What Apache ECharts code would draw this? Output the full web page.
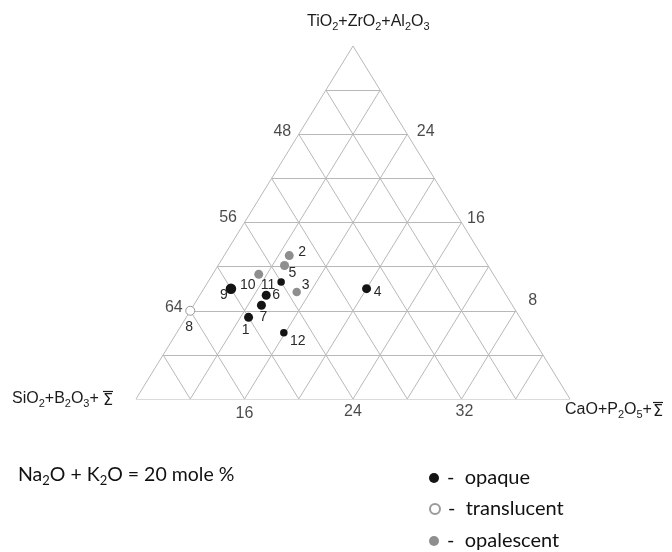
<!DOCTYPE html>
<html><head><meta charset="utf-8">
<script src="https://cdn.jsdelivr.net/npm/echarts@6/dist/echarts.min.js"></script>
<style>html,body{margin:0;padding:0;background:#fff}#c{width:672px;height:552px}</style>
</head><body><div id="c"></div>
<script>
// ---- data (mole %, Na2O + K2O = 20, so the three components sum to 80) ----
const sampleNames = ['1','2','3','4','5','6','7','8','9','10','11','12'];
const sio2 = [60.0, 54.2, 55.3, 50.0, 55.0, 57.7, 58.5, 64.0, 60.0, 57.3, 56.0, 58.1];
const tio2 = [ 7.4, 13.0,  9.7, 10.0, 12.1,  9.4,  8.5,  8.0, 10.0, 11.3, 10.6,  6.0];
const cao  = [12.6, 12.8, 15.0, 20.0, 12.9, 12.9, 13.0,  8.0, 10.0, 11.4, 13.4, 15.9];
const sampleTypes = ['opaque','opalescent','opalescent','opaque','opalescent','opaque',
                     'opaque','translucent','opaque','opalescent','opaque','opaque'];
const typeNames = ['opaque','translucent','opalescent'];
const leftTicks = [48, 56, 64];    // SiO2+B2O3+Σ along left edge
const rightTicks = [24, 16, 8];    // TiO2+ZrO2+Al2O3 along right edge
const bottomTicks = [16, 24, 32];  // CaO+P2O5+Σ along base
const tiGrid = [4, 8, 12, 16, 20, 24, 28];
const caGrid = [12, 16, 20, 24, 28, 32, 36];
const siGrid = [44, 48, 52, 56, 60, 64, 68];
const TOTAL = 80, CA_MIN = 8, TI_MAX = 32, SI_MIN = 40;

// ---- styles / layout (not data) ----
const typeStyle = {
  opaque: {color: '#141414', borderColor: '#141414', borderWidth: 0},
  translucent: {color: '#ffffff', borderColor: '#9a9a9a', borderWidth: 1},
  opalescent: {color: '#8e8e8e', borderColor: '#8e8e8e', borderWidth: 0}
};
const sizeByName = {'9': 10.5, '11': 7.5, '12': 7.5, '3': 8.5};
const labelOffset = {'1':[-3,13],'2':[13,-3],'3':[9,-7],'4':[11,3],'5':[8,8],'6':[10,0],
  '7':[2,12],'8':[-1,16],'9':[-7,6],'10':[-11,11],'11':[-13,3],'12':[14,8]};
const rightTickOffset = [[9,-3],[5,-4],[12,-10]];
const bottomTickOffset = [[0,1],[0,-1],[3,-1]];
const legendTops = [468, 499, 531];

function toXY(si, ti, ca) {
  const s = si + ti + ca;
  const t = ti * TOTAL / s, c = ca * TOTAL / s;
  return [(c - CA_MIN) + t / 2, t];
}

const segs = [];
function seg(a, b) { segs.push({coords: [toXY(...a), toXY(...b)]}); }
seg([72,0,8],[40,32,8]); seg([40,32,8],[40,0,40]); seg([72,0,8],[40,0,40]);
tiGrid.forEach(t => seg([TOTAL - CA_MIN - t, t, CA_MIN], [SI_MIN, t, TOTAL - SI_MIN - t]));
caGrid.forEach(c => seg([TOTAL - c, 0, c], [SI_MIN, TOTAL - SI_MIN - c, c]));
siGrid.forEach(s => seg([s, 0, TOTAL - s], [s, TOTAL - CA_MIN - s, CA_MIN]));

const font = 'Liberation Sans, Arial, sans-serif';
const pointSeries = typeNames.map(tp => ({
  name: tp, type: 'scatter', z: 5,
  symbol: 'circle',
  itemStyle: Object.assign({opacity: 1}, typeStyle[tp]),
  symbolSize: (v, p) => sizeByName[p.name] || 9,
  label: {show: true, position: 'inside', formatter: '{b}', color: '#2a2a2a',
          fontFamily: font, fontSize: 14},
  emphasis: {disabled: true},
  data: sampleNames.map((n, i) => ({n, i})).filter(o => sampleTypes[o.i] === tp).map(o => ({
    name: o.n, value: toXY(sio2[o.i], tio2[o.i], cao[o.i]),
    label: {offset: labelOffset[o.n]}
  }))
}));

function tickSeries(vals, xyFn, pos, offs, dist) {
  return {
    type: 'scatter', silent: true, symbolSize: 1, z: 4,
    itemStyle: {color: 'transparent'},
    label: {show: true, position: pos, distance: dist, formatter: p => p.data.t,
            color: '#1c1c1c', fontFamily: font, fontSize: 16},
    data: vals.map((v, i) => ({t: String(v), value: xyFn(v), label: {offset: offs[i]}}))
  };
}

const sub = {fontFamily: font, fontSize: 11, lineHeight: 8, verticalAlign: 'bottom', fill: '#1c1c1c'};
const nrm = {fontFamily: font, fontSize: 16, lineHeight: 20, fill: '#1c1c1c'};

function sigmaBar(x, y) {
  return {type: 'group', x: x, y: y, children: [
    {type: 'line', shape: {x1: 0, y1: 0.5, x2: 10, y2: 0.5}, style: {stroke: '#1c1c1c', lineWidth: 1.2}},
    {type: 'text', x: 0, y: 2, style: {text: 'Σ', font: '16px DejaVu Sans', fill: '#1c1c1c'}}
  ]};
}

const legends = typeNames.map((n, i) => ({
  orient: 'vertical', left: 429, top: legendTops[i], padding: 0,
  itemWidth: 10, itemHeight: 10, icon: 'circle', data: [n], selectedMode: false,
  formatter: nm => '-  ' + nm,
  textStyle: {fontFamily: 'Lato', fontSize: 20, color: '#111', lineHeight: 20, padding: [0,0,0,3]}
}));

const chart = echarts.init(document.getElementById('c'), null, {renderer: 'canvas'});
chart.setOption({
  animation: false,
  backgroundColor: '#fff',
  grid: {left: 136, top: 46, width: 434, height: 353},
  xAxis: {type: 'value', min: 0, max: TI_MAX, show: false},
  yAxis: {type: 'value', min: 0, max: TI_MAX, show: false},
  legend: legends,
  graphic: [
    {type: 'text', x: 307, y: 12, style: {
      text: '{n|TiO}{s|2}{n|+ZrO}{s|2}{n|+Al}{s|2}{n|O}{s|3}', rich: {n: nrm, s: sub}}},
    {type: 'text', x: 12, y: 389, style: {
      text: '{n|SiO}{s|2}{n|+B}{s|2}{n|O}{s|3}{n|+ }', rich: {n: nrm, s: sub}}},
    sigmaBar(103, 391),
    {type: 'text', x: 565, y: 400, style: {
      text: '{n|CaO+P}{s|2}{n|O}{s|5}{n|+}', rich: {n: nrm, s: sub}}},
    sigmaBar(653, 402),
    {type: 'text', x: 18, y: 463, style: {
      text: '{n|Na}{s|2}{n|O + K}{s|2}{n|O = 20 mole %}',
      rich: {n: {fontFamily: 'Lato', fontSize: 19.5, lineHeight: 24, fill: '#111'},
             s: {fontFamily: 'Lato', fontSize: 13, lineHeight: 10, verticalAlign: 'bottom', fill: '#111'}}}}
  ],
  series: [
    {type: 'lines', coordinateSystem: 'cartesian2d', silent: true, z: 1,
     lineStyle: {color: '#b8b8b8', width: 1, opacity: 1}, data: segs},
    tickSeries(leftTicks, v => toXY(v, TOTAL - CA_MIN - v, CA_MIN), 'left', [[0,-3],[0,-5],[0,-3]], 7),
    tickSeries(rightTicks, v => toXY(SI_MIN, v, TOTAL - SI_MIN - v), 'right', rightTickOffset, 0),
    tickSeries(bottomTicks, v => toXY(TOTAL - v, 0, v), 'bottom', bottomTickOffset, 5)
  ].concat(pointSeries)
});
</script></body></html>
